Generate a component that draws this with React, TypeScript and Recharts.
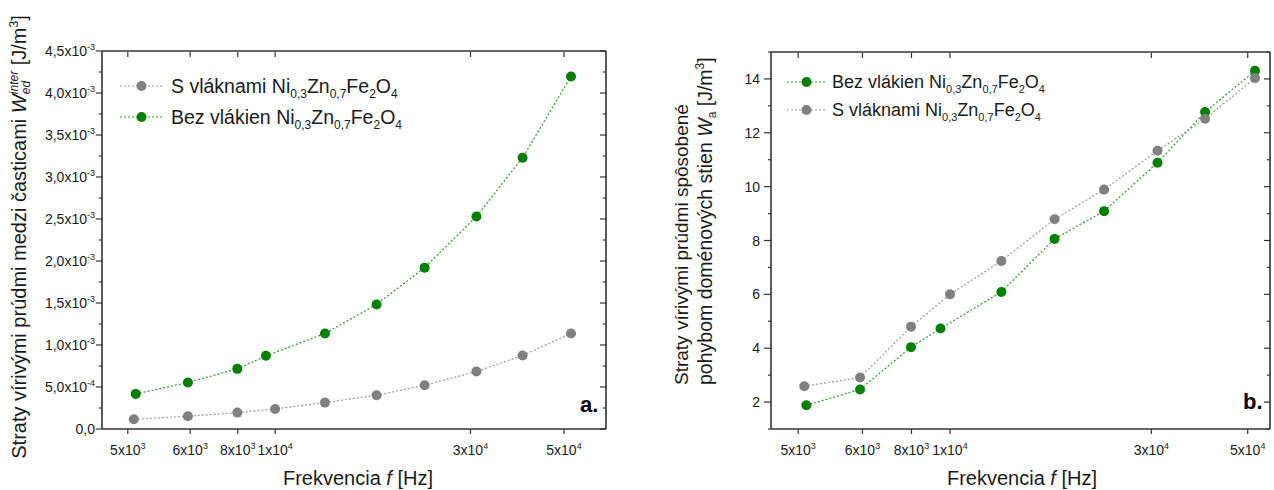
import React from 'react';
import { LineChart, Line, XAxis, YAxis } from 'recharts';

const FONT = '"Liberation Sans", Arial, Helvetica, sans-serif';
const TEXT = '#1a1a1a';
const AXIS = '#333333';
const GREEN = '#008000';
const GREEN_LINE = '#2f9a2f';
const GRAY = '#808080';
const GRAY_LINE = '#9a9a9a';

// ---- data (frequency in Hz) ----
const freqBez = [4600, 6150, 8100, 9500, 13200, 17600, 23000, 30700, 39700, 52000];
const freqS = [4550, 6150, 8100, 10000, 13200, 17600, 23000, 30700, 39700, 52000];

// panel a: W_ed^inter [J/m^3]
const wedInterBez = [4.18e-4, 5.53e-4, 7.16e-4, 8.71e-4, 1.137e-3, 1.483e-3, 1.921e-3, 2.53e-3, 3.23e-3, 4.197e-3];
const wedInterS = [1.16e-4, 1.52e-4, 1.95e-4, 2.39e-4, 3.14e-4, 4.02e-4, 5.21e-4, 6.84e-4, 8.75e-4, 1.137e-3];

// panel b: W_a [J/m^3]
const waBez = [1.88, 2.47, 4.04, 4.73, 6.09, 8.06, 9.09, 10.89, 12.77, 14.3];
const waS = [2.59, 2.91, 4.8, 6.0, 7.24, 8.79, 9.89, 11.33, 12.52, 14.03];

// ---- series names ----
const nameBez = 'Bez vlákien';
const nameS = 'S vláknami';

// ---- axis ticks (positions as drawn in the figure) ----
const xTicks = [4400, 6230, 8120, 10000, 29700, 50000];
const xTickMant = ['5', '6', '8', '1', '3', '5'];
const xTickExp = ['3', '3', '3', '4', '4', '4'];

const leftYTicks = [0, 0.00025, 0.0005, 0.00075, 0.001, 0.00125, 0.0015, 0.00175, 0.002, 0.00225, 0.0025, 0.00275, 0.003, 0.00325, 0.0035, 0.00375, 0.004, 0.00425, 0.0045];
const leftYTickMant = ['0,0', '', '5,0x10', '', '1,0x10', '', '1,5x10', '', '2,0x10', '', '2,5x10', '', '3,0x10', '', '3,5x10', '', '4,0x10', '', '4,5x10'];
const leftYTickExp = ['', '', '-4', '', '-3', '', '-3', '', '-3', '', '-3', '', '-3', '', '-3', '', '-3', '', '-3'];

const rightYTicks = [1, 2, 3, 4, 5, 6, 7, 8, 9, 10, 11, 12, 13, 14, 15];
const rightYTickLabels = ['', '2', '', '4', '', '6', '', '8', '', '10', '', '12', '', '14', ''];

const xDomainA: [number, number] = [3811, 63195];
const xDomainB: [number, number] = [3800, 56400];
const yDomainA: [number, number] = [0, 0.0045];
const yDomainB: [number, number] = [1, 15];

const toPoints = (fs: number[], vs: number[]) => fs.map((f, i) => ({ f, v: vs[i] }));

function nearest(arr: number[], v: number) {
  let best = 0;
  let bd = Infinity;
  arr.forEach((a, i) => {
    const d = Math.abs(a - v);
    if (d < bd) {
      bd = d;
      best = i;
    }
  });
  return best;
}

const XTick = (props: any) => {
  const { x, y, payload } = props;
  const i = nearest(xTicks, payload.value);
  return (
    <text x={x} y={y + 21} textAnchor="middle" fontFamily={FONT} fontSize={14} fill={TEXT}>
      {xTickMant[i] + 'x10'}
      <tspan dy={-6} fontSize={9}>{xTickExp[i]}</tspan>
    </text>
  );
};

const TopTick = (props: any) => {
  const { x, y } = props;
  return <line x1={x} x2={x} y1={y + 1} y2={y + 6} stroke={AXIS} strokeWidth={1.2} />;
};

const LeftYTickA = (props: any) => {
  const { x, y, payload } = props;
  const i = nearest(leftYTicks, payload.value);
  const major = i % 2 === 0;
  const len = major ? 6 : 3;
  return (
    <g>
      <line x1={x} x2={x - len} y1={y} y2={y} stroke={AXIS} strokeWidth={1.2} />
      {major ? (
        <text x={x - 7} y={y + 5} textAnchor="end" fontFamily={FONT} fontSize={14} fill={TEXT}>
          {leftYTickMant[i]}
          {leftYTickExp[i] ? <tspan dy={-6} fontSize={9}>{leftYTickExp[i]}</tspan> : null}
        </text>
      ) : null}
    </g>
  );
};

const RightMirrorTickA = (props: any) => {
  const { x, y, payload } = props;
  const i = nearest(leftYTicks, payload.value);
  const len = i % 2 === 0 ? 6 : 3;
  return <line x1={x} x2={x - len} y1={y} y2={y} stroke={AXIS} strokeWidth={1.2} />;
};

const LeftYTickB = (props: any) => {
  const { x, y, payload } = props;
  const i = nearest(rightYTicks, payload.value);
  const major = rightYTickLabels[i] !== '';
  const len = major ? 7 : 3;
  return (
    <g>
      <line x1={x} x2={x - len} y1={y} y2={y} stroke={AXIS} strokeWidth={1.2} />
      {major ? (
        <text x={x - 11} y={y + 5} textAnchor="end" fontFamily={FONT} fontSize={14} fill={TEXT}>
          {rightYTickLabels[i]}
        </text>
      ) : null}
    </g>
  );
};

const RightMirrorTickB = (props: any) => {
  const { x, y, payload } = props;
  const i = nearest(rightYTicks, payload.value);
  const len = rightYTickLabels[i] !== '' ? 6 : 3;
  return <line x1={x} x2={x - len} y1={y} y2={y} stroke={AXIS} strokeWidth={1.2} />;
};

const axisLine = { stroke: AXIS, strokeWidth: 1.6 };
const tickLine = { stroke: AXIS, strokeWidth: 1.2 };

function seriesLine(id: string, data: { f: number; v: number }[], color: string, lineColor: string, yId: string) {
  return (
    <Line
      key={id}
      xAxisId="b"
      yAxisId={yId}
      data={data}
      dataKey="v"
      type="linear"
      stroke={lineColor}
      strokeWidth={1.2}
      strokeDasharray="2 2"
      dot={{ r: 5, fill: color, stroke: color, strokeWidth: 0 }}
      activeDot={false}
      isAnimationActive={false}
    />
  );
}

const Formula = ({ fs }: { fs: number }) => {
  const sub = Math.round(fs * 0.63);
  const d = Math.round(fs * 0.28);
  return (
    <>
      <tspan>Ni</tspan>
      <tspan fontSize={sub} dy={d}>0,3</tspan>
      <tspan dy={-d}>Zn</tspan>
      <tspan fontSize={sub} dy={d}>0,7</tspan>
      <tspan dy={-d}>Fe</tspan>
      <tspan fontSize={sub} dy={d}>2</tspan>
      <tspan dy={-d}>O</tspan>
      <tspan fontSize={sub} dy={d}>4</tspan>
    </>
  );
};

const LegendRow = ({ x1, x2, cy, color, lineColor, name, fs, tx }: any) => (
  <g>
    <line x1={x1} x2={x2} y1={cy} y2={cy} stroke={lineColor} strokeWidth={1.2} strokeDasharray="2 2" />
    <circle cx={(x1 + x2) / 2} cy={cy} r={5} fill={color} />
    <text x={tx} y={cy + Math.round(fs * 0.36)} fontFamily={FONT} fontSize={fs} fill={TEXT}>
      {name + ' '}
      <Formula fs={fs} />
    </text>
  </g>
);

export default function App() {
  const ptsBezA = toPoints(freqBez, wedInterBez);
  const ptsSA = toPoints(freqS, wedInterS);
  const ptsBezB = toPoints(freqBez, waBez);
  const ptsSB = toPoints(freqS, waS);

  return (
    <div style={{ position: 'absolute', left: 0, top: 0, width: 1274, height: 490, background: '#fff', fontFamily: FONT }}>
      <div style={{ position: 'absolute', left: 0, top: 0 }}>
        <LineChart width={640} height={490} margin={{ top: 50, right: 33, bottom: 0, left: 0 }}>
          <XAxis xAxisId="b" dataKey="f" type="number" scale="log" domain={xDomainA} allowDataOverflow ticks={xTicks} interval={0} height={61} tickSize={5} tickMargin={0} axisLine={axisLine} tickLine={tickLine} tick={XTick} />
          <XAxis xAxisId="t" orientation="top" dataKey="f" type="number" scale="log" domain={xDomainA} allowDataOverflow ticks={xTicks} interval={0} height={1} tickSize={0} tickMargin={0} axisLine={axisLine} tickLine={false} tick={TopTick} />
          <YAxis yAxisId="l" type="number" domain={yDomainA} allowDataOverflow ticks={leftYTicks} interval={0} width={102} tickSize={0} tickMargin={0} axisLine={axisLine} tickLine={false} tick={LeftYTickA} />
          <YAxis yAxisId="r" orientation="right" type="number" domain={yDomainA} allowDataOverflow ticks={leftYTicks} interval={0} width={1} tickSize={0} tickMargin={0} axisLine={axisLine} tickLine={false} tick={RightMirrorTickA} />
          {seriesLine('bezA', ptsBezA, GREEN, GREEN_LINE, 'l')}
          {seriesLine('sA', ptsSA, GRAY, GRAY_LINE, 'l')}
        </LineChart>
      </div>
      <div style={{ position: 'absolute', left: 640, top: 0 }}>
        <LineChart width={634} height={490} margin={{ top: 51, right: 3, bottom: 0, left: 0 }}>
          <XAxis xAxisId="b" dataKey="f" type="number" scale="log" domain={xDomainB} allowDataOverflow ticks={xTicks} interval={0} height={61} tickSize={5} tickMargin={0} axisLine={axisLine} tickLine={tickLine} tick={XTick} />
          <XAxis xAxisId="t" orientation="top" dataKey="f" type="number" scale="log" domain={xDomainB} allowDataOverflow ticks={xTicks} interval={0} height={1} tickSize={0} tickMargin={0} axisLine={axisLine} tickLine={false} tick={TopTick} />
          <YAxis yAxisId="l" type="number" domain={yDomainB} allowDataOverflow ticks={rightYTicks} interval={0} width={131} tickSize={0} tickMargin={0} axisLine={axisLine} tickLine={false} tick={LeftYTickB} />
          <YAxis yAxisId="r" orientation="right" type="number" domain={yDomainB} allowDataOverflow ticks={rightYTicks} interval={0} width={1} tickSize={0} tickMargin={0} axisLine={axisLine} tickLine={false} tick={RightMirrorTickB} />
          {seriesLine('bezB', ptsBezB, GREEN, GREEN_LINE, 'l')}
          {seriesLine('sB', ptsSB, GRAY, GRAY_LINE, 'l')}
        </LineChart>
      </div>
      <svg width={1274} height={490} style={{ position: 'absolute', left: 0, top: 0, pointerEvents: 'none' }}>
        {/* Left y title */}
        <text transform="translate(26,237) rotate(-90)" textAnchor="middle" fontFamily={FONT} fontSize={20} fill={TEXT}>
          {'Straty vírivými prúdmi medzi časticami '}
          <tspan fontStyle="italic">W</tspan>
          <tspan fontSize={12} fontStyle="italic" dy={4}>ed</tspan>
          <tspan fontSize={12} fontStyle="italic" dx={-13.3} dy={-12}>inter</tspan>
          <tspan dy={8}>{' [J/m'}</tspan>
          <tspan fontSize={12} dy={-8}>3</tspan>
          <tspan dy={8}>]</tspan>
        </text>
        {/* Right y title */}
        <text transform="translate(688,385) rotate(-90)" textAnchor="start" fontFamily={FONT} fontSize={19} fill={TEXT}>
          Straty vírivými prúdmi spôsobené
        </text>
        <text transform="translate(712,385) rotate(-90)" textAnchor="start" fontFamily={FONT} fontSize={19.5} fill={TEXT}>
          {'pohybom doménových stien '}
          <tspan fontStyle="italic">W</tspan>
          <tspan fontSize={12} dy={4}>a</tspan>
          <tspan dy={-4}>{' [J/m'}</tspan>
          <tspan fontSize={12} dy={-8}>3</tspan>
          <tspan dy={8}>]</tspan>
        </text>
        {/* X titles */}
        <text x={358} y={485} textAnchor="middle" fontFamily={FONT} fontSize={20} fill={TEXT}>
          {'Frekvencia '}
          <tspan fontStyle="italic">f</tspan>
          {' [Hz]'}
        </text>
        <text x={1022} y={485} textAnchor="middle" fontFamily={FONT} fontSize={20} fill={TEXT}>
          {'Frekvencia '}
          <tspan fontStyle="italic">f</tspan>
          {' [Hz]'}
        </text>
        {/* Panel labels */}
        <text x={580} y={412} fontFamily={FONT} fontSize={22} fontWeight="bold" fill="#000">a.</text>
        <text x={1243} y={409} fontFamily={FONT} fontSize={22} fontWeight="bold" fill="#000">b.</text>
        {/* Legends */}
        <LegendRow x1={120} x2={163} cy={86} color={GRAY} lineColor={GRAY_LINE} name={nameS} fs={19.5} tx={171} />
        <LegendRow x1={120} x2={163} cy={117} color={GREEN} lineColor={GREEN_LINE} name={nameBez} fs={19.5} tx={171} />
        <LegendRow x1={787} x2={826} cy={82} color={GREEN} lineColor={GREEN_LINE} name={nameBez} fs={18} tx={832} />
        <LegendRow x1={787} x2={826} cy={110} color={GRAY} lineColor={GRAY_LINE} name={nameS} fs={18} tx={832} />
      </svg>
    </div>
  );
}
